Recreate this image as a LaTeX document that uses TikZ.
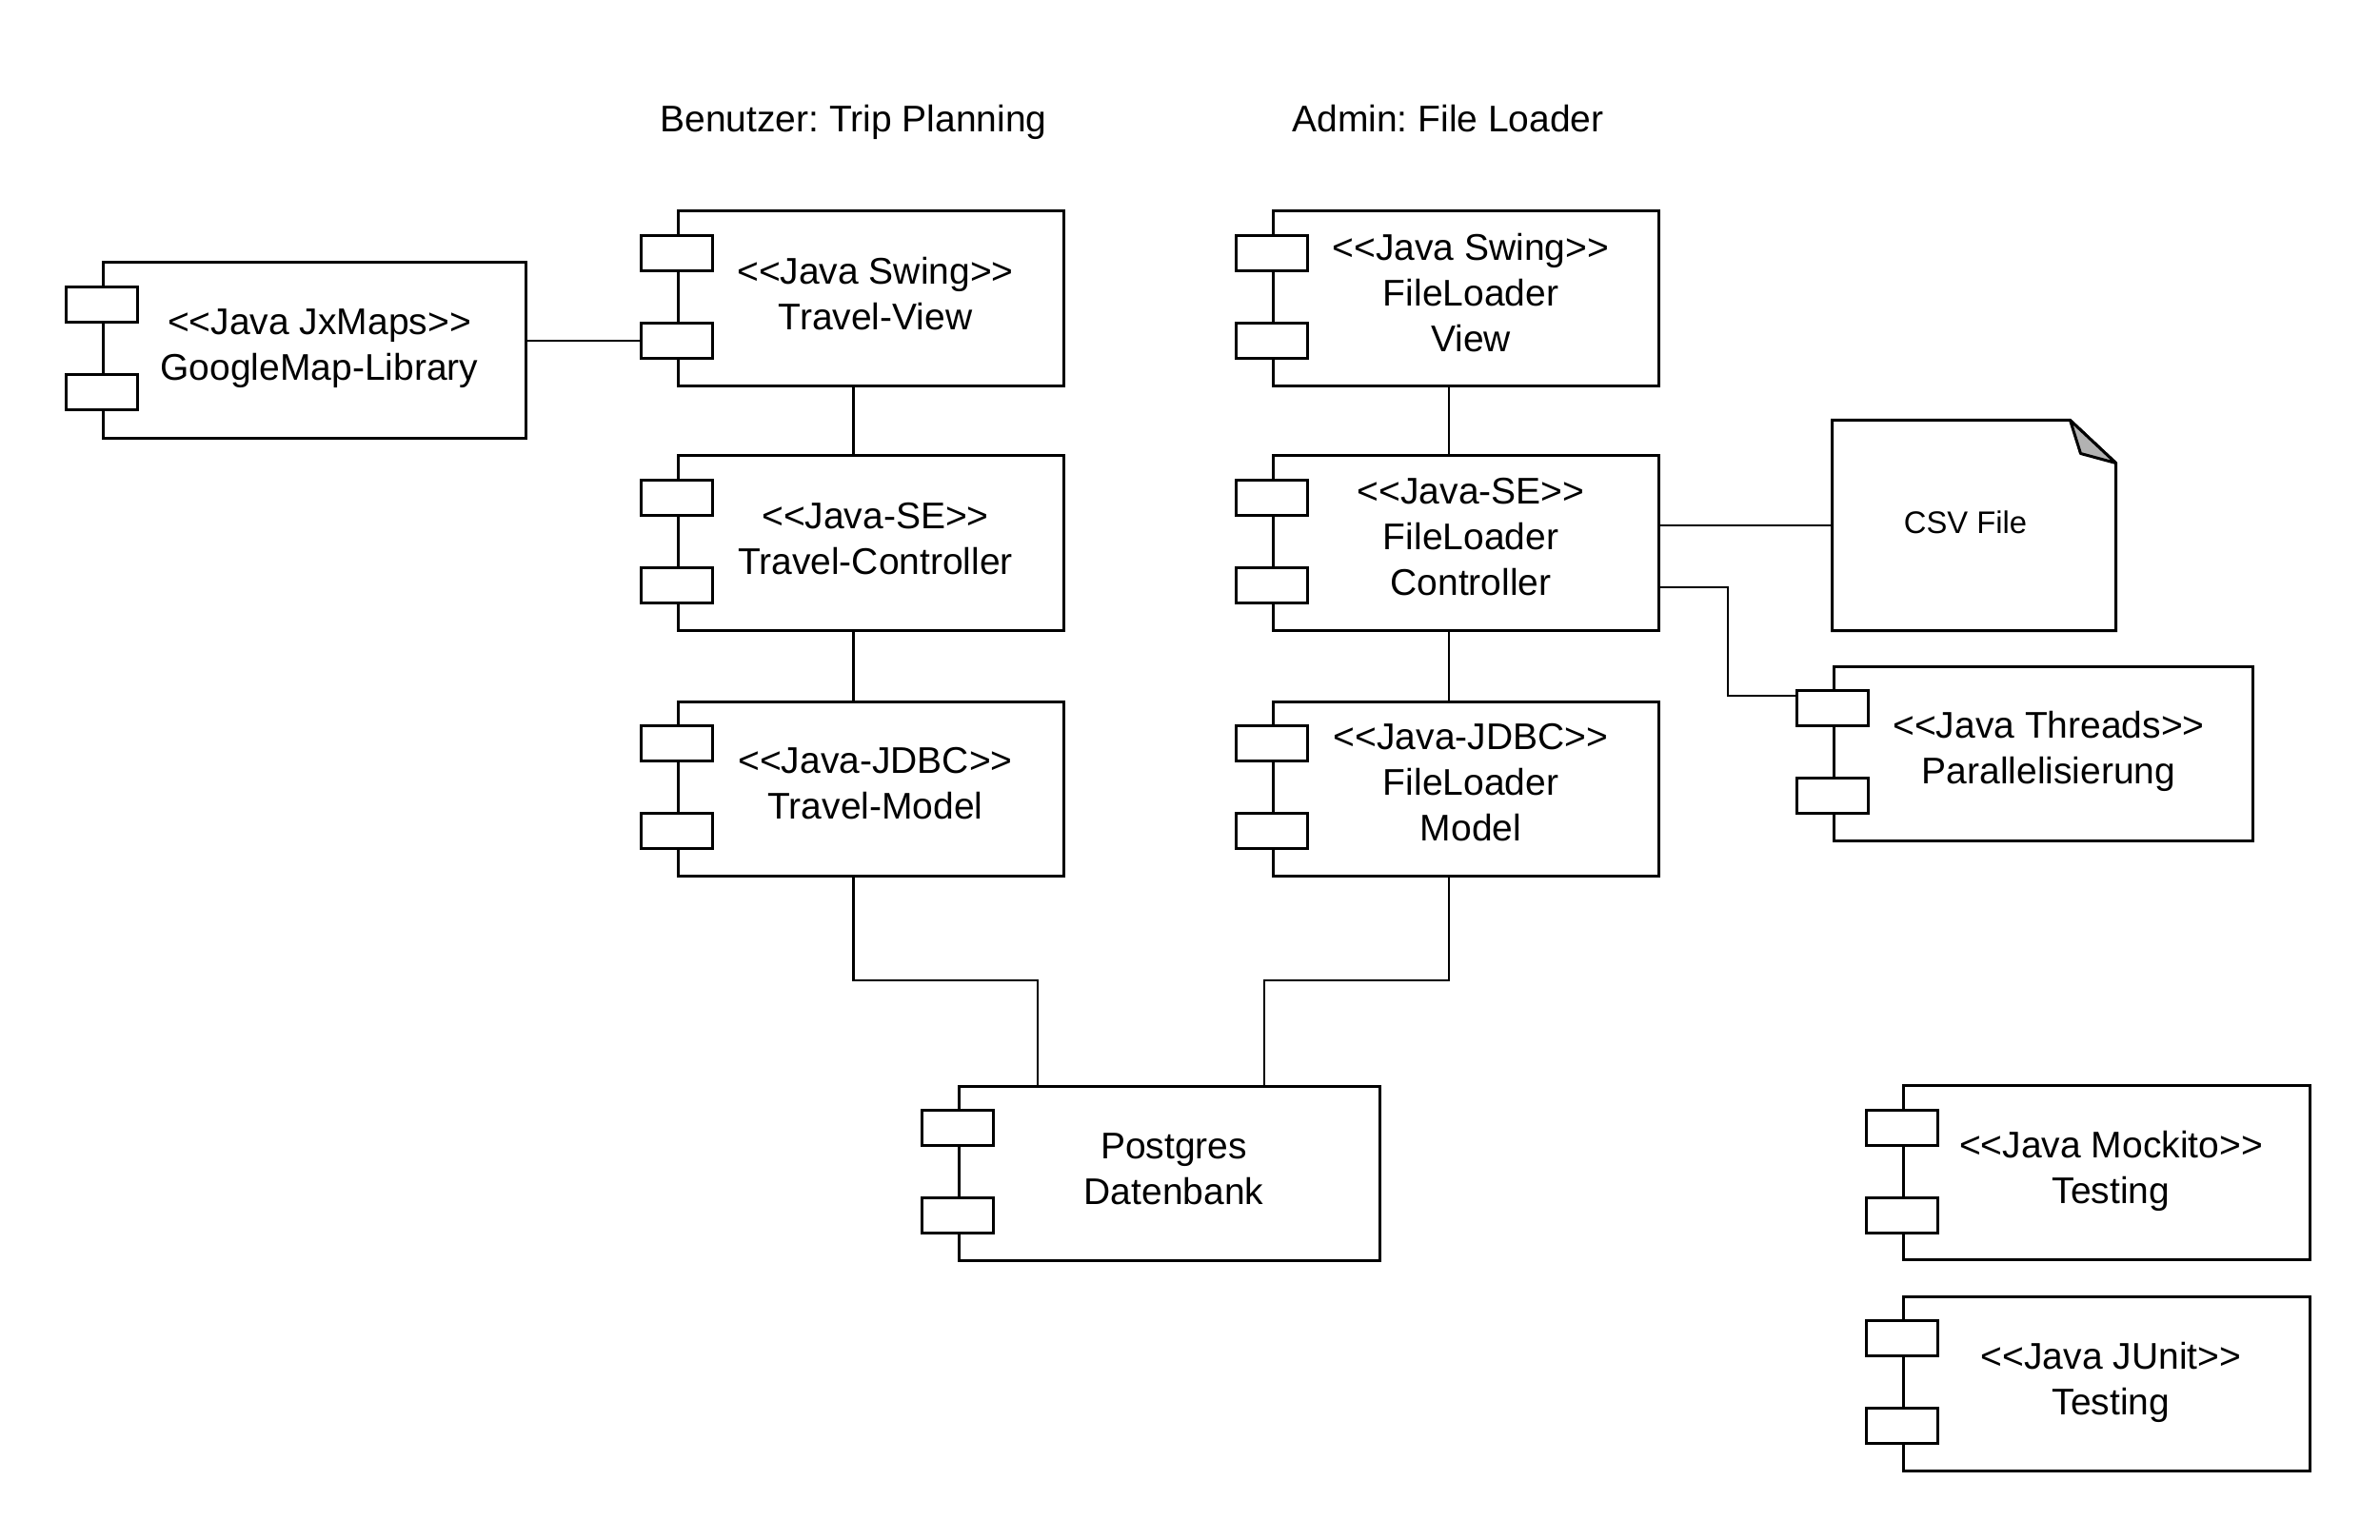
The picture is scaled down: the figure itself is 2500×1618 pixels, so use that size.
\documentclass[tikz,border=0pt]{standalone}
\usepackage{fontspec}
\setmainfont{Liberation Sans}
\usetikzlibrary{calc}
\newcommand\stereo[1]{<{}<#1>{}>}
\frenchspacing
\begin{document}
\begin{tikzpicture}[x=0.4pt,y=-0.4pt,
  comp/.style={draw, line width=1.2pt, fill=white, minimum width=162pt, minimum height=73.2pt, inner sep=0pt},
  ctext/.style={align=center, font=\fontsize{15.6}{19.2}\selectfont, inner sep=0pt},
  port/.style={draw, line width=1.2pt, fill=white, minimum width=30pt, minimum height=14.8pt, inner sep=0pt},
  wire/.style={line width=1pt},
  title/.style={font=\fontsize{15.6}{19.2}\selectfont, anchor=base}]
\useasboundingbox (0,0) rectangle (2500,1618);

% titles
\node[title] (t1) at (896.5,139) {Benutzer: Trip Planning};
\node[title] (t2) at (1521,139) {Admin: File Loader};

% components
\node[comp, minimum width=177.2pt, minimum height=73.6pt] (gm) at (330.5,368) {};
\node[comp] (tv) at (914.5,313.5) {};
\node[comp] (tc) at (914.5,570.5) {};
\node[comp] (tm) at (914.5,828.5) {};
\node[comp] (fv) at (1540,313.5) {};
\node[comp] (fc) at (1540,570.5) {};
\node[comp] (fm) at (1540,828.5) {};
\node[comp, minimum width=176.8pt] (pg) at (1228,1232.5) {};
\node[comp, minimum width=176pt] (par) at (2146,791.5) {};
\node[comp, minimum width=170.8pt] (mo) at (2212.5,1232) {};
\node[comp, minimum width=170.8pt] (ju) at (2212.5,1453.5) {};

% component texts
\node[ctext] (gm-t) at ($(gm.center)+(5,-2)$) {\stereo{Java JxMaps}\\GoogleMap-Library};
\node[ctext] (tv-t) at ($(tv.center)+(5,-5)$) {\stereo{Java Swing}\\Travel-View};
\node[ctext] (tc-t) at ($(tc.center)+(5,-4)$) {\stereo{Java-SE}\\Travel-Controller};
\node[ctext] (tm-t) at ($(tm.center)+(5,-5)$) {\stereo{Java-JDBC}\\Travel-Model};
\node[ctext] (fv-t) at ($(fv.center)+(5,-6)$) {\stereo{Java Swing}\\FileLoader\\View};
\node[ctext] (fc-t) at ($(fc.center)+(5,-6)$) {\stereo{Java-SE}\\FileLoader\\Controller};
\node[ctext] (fm-t) at ($(fm.center)+(5,-6)$) {\stereo{Java-JDBC}\\FileLoader\\Model};
\node[ctext] (pg-t) at ($(pg.center)+(5,-4)$) {Postgres\\Datenbank};
\node[ctext] (par-t) at ($(par.center)+(6,-2)$) {\stereo{Java Threads}\\Parallelisierung};
\node[ctext] (mo-t) at ($(mo.center)+(5,-2)$) {\stereo{Java Mockito}\\Testing};
\node[ctext] (ju-t) at ($(ju.center)+(5,-1)$) {\stereo{Java JUnit}\\Testing};

% ports
\foreach \c in {gm,tv,tc,tm,fv,fc,fm,pg,par,mo,ju} {
  \node[port] (\c-p1) at ($(\c.north west)+(0,45.5)$) {};
  \node[port] (\c-p2) at ($(\c.north west)+(0,137.5)$) {};
}

% CSV file
\node[minimum width=118.8pt, minimum height=88pt, inner sep=0pt] (csv) at (2073.5,552) {};
\draw[line width=1.2pt] (csv.north west) -- ($(csv.north east)+(-48,0)$) -- ($(csv.north east)+(0,45)$)
  -- (csv.south east) -- (csv.south west) -- cycle;
\draw[line width=1.2pt, fill=black!30, line join=round] ($(csv.north east)+(-48,0)$)
  -- ($(csv.north east)+(-37,35)$) -- ($(csv.north east)+(0,45)$) -- cycle;
\node[font=\fontsize{13.1}{15.7}\selectfont] (csvt) at ($(csv.center)+(-9,-3)$) {CSV File};

% connectors
\draw[wire] (tv-p2.west) -- (tv-p2.west -| gm.east);
\draw[wire] ($(tv.south)+(-18,0)$) -- ($(tc.north)+(-18,0)$);
\draw[wire] ($(tc.south)+(-18,0)$) -- ($(tm.north)+(-18,0)$);
\draw[wire] ($(fv.south)+(-18,0)$) -- ($(fc.north)+(-18,0)$);
\draw[wire] ($(fc.south)+(-18,0)$) -- ($(fm.north)+(-18,0)$);

\coordinate (tmS) at ($(tm.south)+(-18,0)$);
\coordinate (pgL) at ($(pg.north)+(-138,0)$);
\coordinate (fmS) at ($(fm.south)+(-18,0)$);
\coordinate (pgR) at ($(pg.north)+(100,0)$);
\draw[wire] (tmS) -- (tmS |- 0,1030) -| (pgL);
\draw[wire] (fmS) -- (fmS |- 0,1030) -| (pgR);

\draw[wire] (csv.west) -- (csv.west -| fc.east);

\coordinate (fcT) at ($(fc.east)+(0,46.5)$);
\coordinate (parIn) at ($(par-p1.west)+(0,-13)$);
\draw[wire] (fcT) -| ($(fcT)!0.5!(parIn)$) |- (parIn);
\end{tikzpicture}
\end{document}
